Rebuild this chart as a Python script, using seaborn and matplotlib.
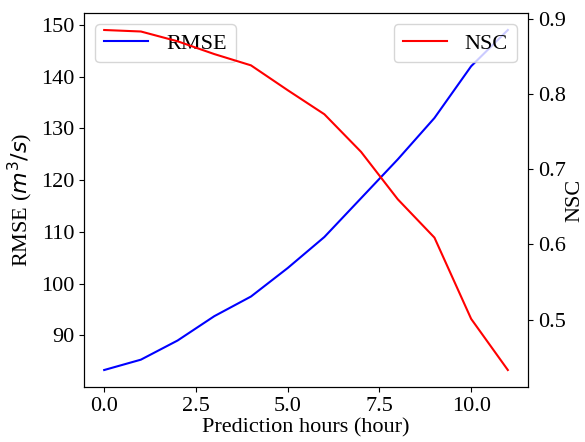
import matplotlib
matplotlib.use("Agg")
import matplotlib.pyplot as plt
import seaborn as sns
import pandas as pd

hours = [0, 1, 2, 3, 4, 5, 6, 7, 8, 9, 10, 11]
rmse = [83.3, 85.3, 89.0, 93.7, 97.5, 103.0, 109.0, 116.5, 124.0, 132.0, 142.0, 149.0]
nsc = [0.885, 0.883, 0.870, 0.853, 0.838, 0.805, 0.773, 0.723, 0.660, 0.609, 0.501, 0.433]

plt.rcParams['font.family'] = ['Liberation Serif', 'DejaVu Serif']
plt.rcParams['font.size'] = 16

df = pd.DataFrame({"hours": hours, "RMSE": rmse, "NSC": nsc})

fig, ax = plt.subplots(figsize=(5.85, 4.42), dpi=100)
fig.subplots_adjust(left=0.1436, right=0.9026, top=0.9706, bottom=0.1244)
sns.lineplot(data=df, x="hours", y="RMSE", color="blue", label="RMSE", ax=ax, linewidth=1.5)
ax.set_xlabel("Prediction hours (hour)", labelpad=2)
ax.set_ylabel("RMSE ($m^3/s$)", labelpad=4)
ax.legend(loc="upper left")

ax2 = ax.twinx()
sns.lineplot(data=df, x="hours", y="NSC", color="red", label="NSC", ax=ax2, linewidth=1.5)
ax2.set_ylabel("NSC", labelpad=0)
ax2.legend(loc="upper right")

fig.savefig("out.png", dpi=100)
